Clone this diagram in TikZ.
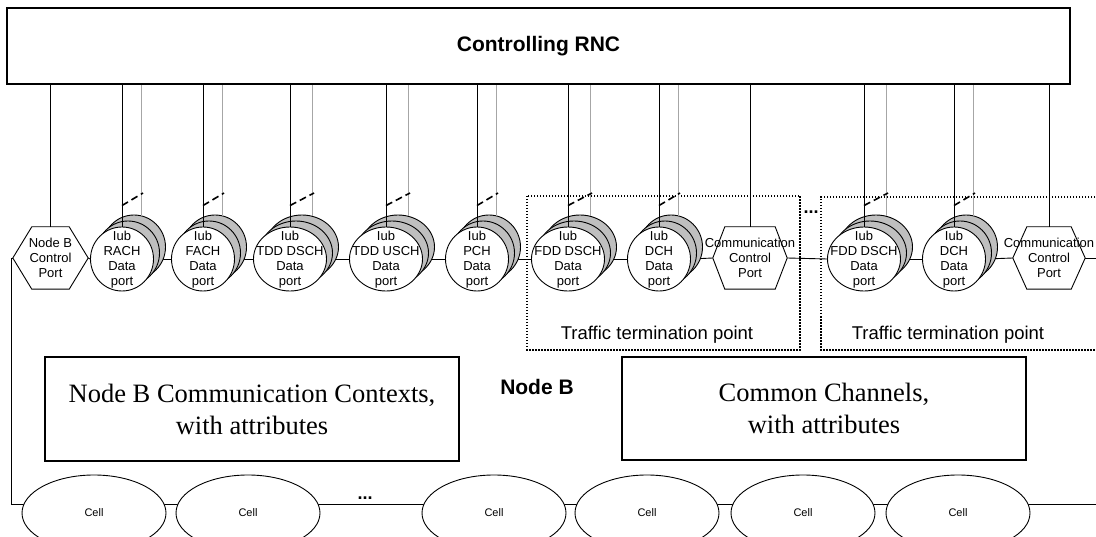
\documentclass[tikz,border=0pt]{standalone}
\usepackage{fontspec}
\setmainfont{Liberation Serif}
\setsansfont{Liberation Sans}
\usetikzlibrary{shapes.geometric,calc}
\pgfdeclarelayer{back}
\pgfsetlayers{back,main}

\tikzset{
  wire/.style={draw=black, line width=0.9pt},
  greywire/.style={draw=black!35, line width=0.9pt},
  slashmark/.style={draw=black, line width=1.6pt, dash pattern=on 7pt off 4pt},
  portdisk/.style={ellipse, draw, line width=0.9pt, inner sep=0pt, minimum height=64pt},
  portshade/.style={portdisk, fill=black!25},
  portfront/.style={portdisk, fill=white},
  porttext/.style={font=\sffamily\fontsize{13}{15}\selectfont, align=center, inner sep=0pt},
  hexbody/.style={rectangle, inner sep=0pt, minimum height=62pt},
  cellnode/.style={ellipse, draw, line width=0.9pt, fill=white, inner sep=0pt,
    minimum width=144pt, minimum height=76pt, font=\sffamily\fontsize{11}{13}\selectfont},
  attrbox/.style={rectangle, draw, line width=1.3pt, inner sep=0pt, align=center,
    font=\rmfamily\fontsize{26.5}{32}\selectfont},
  dotframe/.style={draw=black, line width=1.5pt, dash pattern=on 1.5pt off 1.5pt},
  ttplabel/.style={font=\sffamily\fontsize{18.5}{22}\selectfont, inner sep=0pt},
  boldlabel/.style={font=\sffamily\bfseries\fontsize{21}{25}\selectfont, inner sep=0pt},
  ellipsis/.style={font=\sffamily\bfseries\fontsize{18}{20}\selectfont, inner sep=0pt},
}

% hexagonal control port: name, x, y, width, slant, text
\newcommand\hexport[6]{%
  \node[hexbody, minimum width=#4pt] (#1) at (#2,#3) {};
  \draw[wire, fill=white] (#1.west) -- ($(#1.north west)+(#5,0)$)
    -- ($(#1.north east)+(-#5,0)$) -- (#1.east)
    -- ($(#1.south east)+(-#5,0)$) -- ($(#1.south west)+(#5,0)$) -- cycle;
  \node[porttext] at (#1) {#6};
  \draw[wire] (#1.north) -- (#1.north |- rnc.south);
}

% stacked Iub data port: name, x, width, text, grey offset
\newcommand\iubport[5]{%
  \node[portshade, minimum width=#3pt] (#1-c) at ({#2+12},247) {};
  \node[portshade, minimum width=#3pt] (#1-b) at ({#2+6},253) {};
  \node[portfront, minimum width=#3pt] (#1) at (#2,259) {};
  \node[porttext] at ($(#1)+(0,1)$) {#4};
  \coordinate (#1-g) at ({#2+#5},216);
  \draw[wire] (#1.north) -- (#1.north |- rnc.south);
  \draw[greywire] (#1-g) -- (#1-g |- rnc.south);
  \draw[slashmark] ($(#1.north)+(0,-21)$) -- ($(#1-g)+(2,-23)$);
}

\begin{document}
\begin{tikzpicture}[x=1pt,y=-1pt]
\useasboundingbox (0,0) rectangle (1096,537);

% the controlling RNC
\node[rectangle, draw, line width=1.3pt, minimum width=1063pt, minimum height=76pt,
  inner sep=0pt] (rnc) at (538.5,46) {};
\node[boldlabel] at (rnc) {Controlling RNC};

% traffic termination points
\draw[dotframe] (527,196) rectangle (800,350);
\draw[dotframe] (1110,197) -| (821,350) -- (1110,350);
\node[ttplabel] (ttp1) at (657,335) {Traffic termination point};
\node[ttplabel] (ttp2) at (948,335) {Traffic termination point};
\node[ellipsis] (moreTtp) at (811,212) {...};

% ports
\hexport{nbcp}{50.5}{258}{75}{19}{Node B\\Control\\Port}
\iubport{rach}{122}{63}{Iub\\RACH\\Data\\port}{19}
\iubport{fach}{203}{63}{Iub\\FACH\\Data\\port}{19}
\iubport{tdsch}{290}{73}{Iub\\TDD DSCH\\Data\\port}{22}
\iubport{tusch}{386}{73}{Iub\\TDD USCH\\Data\\port}{22}
\iubport{pch}{477}{63}{Iub\\PCH\\Data\\port}{19}
\iubport{fdsch}{568}{73}{Iub\\FDD DSCH\\Data\\port}{22}
\iubport{dch}{659}{63}{Iub\\DCH\\Data\\port}{19}
\hexport{ccpa}{750}{258}{74}{12}{Communication\\Control\\Port}
\iubport{fdschb}{864}{73}{Iub\\FDD DSCH\\Data\\port}{22}
\iubport{dchb}{954}{63}{Iub\\DCH\\Data\\port}{19}
\hexport{ccpb}{1049}{258}{72}{14}{Communication\\Control\\Port}

% attribute boxes
\node[attrbox, minimum width=414pt, minimum height=104pt] (ctx) at (252,409)
  {Node B Communication Contexts,\\with attributes};
\node[boldlabel] (nodeb) at (537,387) {Node B};
\node[attrbox, minimum width=404pt, minimum height=103pt] (cch) at (824,408.5)
  {Common Channels,\\with attributes};

% cells
\node[cellnode] (cell1) at (94,513) {Cell};
\node[cellnode] (cell2) at (248,513) {Cell};
\node[cellnode] (cell3) at (494,513) {Cell};
\node[cellnode] (cell4) at (647,513) {Cell};
\node[cellnode] (cell5) at (803,513) {Cell};
\node[cellnode] (cell6) at (958,513) {Cell};
\node[ellipsis] (moreCells) at (365,498) {...};

\coordinate (chainEnd) at (1096,258);
\coordinate (busEnd) at (1096,504);

% internal chain and cell bus, kept behind the shapes
\begin{pgfonlayer}{back}
  \draw[wire] (nbcp.east) -- (rach.west);
  \draw[wire] (rach.east) -- (fach.west);
  \draw[wire] (fach.east) -- (tdsch.west);
  \draw[wire] (tdsch.east) -- (tusch.west);
  \draw[wire] (tusch.east) -- (pch.west);
  \draw[wire] (pch.east) -- (fdsch.west);
  \draw[wire] (fdsch.east) -- (dch.west);
  \draw[wire] (dch.east) -- (ccpa.west);
  \draw[wire] (ccpa.east) -- (fdschb.west);
  \draw[wire] (fdschb.east) -- (dchb.west);
  \draw[wire] (dchb.east) -- (ccpb.west);
  \draw[wire] (ccpb.east) -- (chainEnd);
  \draw[wire] (nbcp.west) -- ++(-1,0) |- (busEnd);
\end{pgfonlayer}
\end{tikzpicture}
\end{document}
